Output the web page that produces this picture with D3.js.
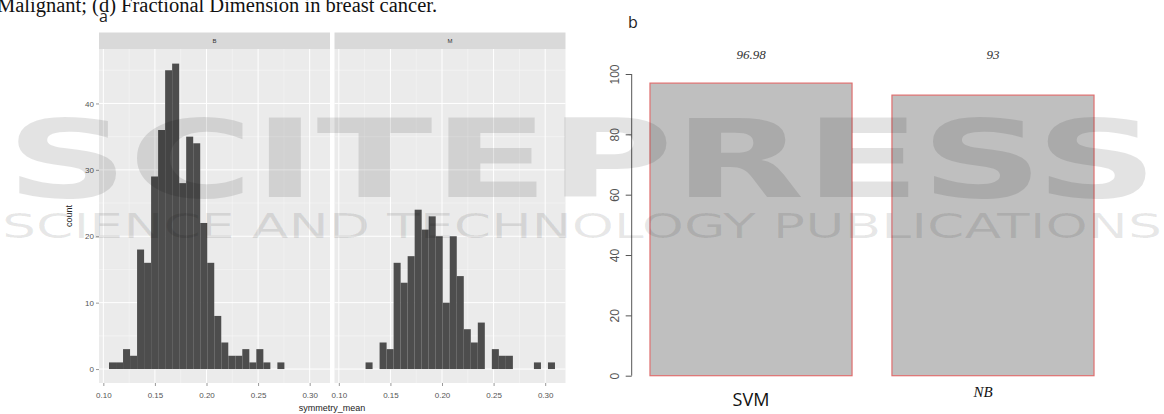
<!DOCTYPE html>
<meta charset="utf-8">
<script src="https://d3js.org/d3.v7.min.js"></script>
<style>
  body { margin: 0; background: #fff; }
  svg { display: block; }
</style>
<div id="my_dataviz"></div>
<script>

// ---- data ----
// histogram of symmetry_mean, 30 bins, faceted by diagnosis
var binStart = 0.1055, binWidth = 0.0068;
var countsB = [1, 1, 3, 2, 18, 16, 29, 36, 45, 46, 28, 35, 34, 22, 16, 8, 4, 2, 2, 3, 1, 3, 1, 0, 1, 0, 0, 0, 0, 0];
var countsM = [0, 0, 0, 1, 0, 4, 3, 16, 13, 17, 24, 21, 23, 20, 10, 20, 14, 6, 4, 7, 0, 3, 2, 2, 0, 0, 0, 1, 0, 1];
var facets = ["B", "M"];
var xTicks = [0.10, 0.15, 0.20, 0.25, 0.30];
var yTicks = [0, 10, 20, 30, 40];

// accuracy bar chart
var models = ["SVM", "NB"];
var accuracy = [96.98, 93];
var accLabels = ["96.98", "93"];
var accTicks = [0, 20, 40, 60, 80, 100];

var W = 1164, H = 414;
var svg = d3.select("#my_dataviz").append("svg")
  .attr("width", W).attr("height", H);

// caption fragment from the page (cut at the top)
svg.append("text")
  .attr("x", -3).attr("y", 12)
  .style("font-family", "Liberation Serif, Times New Roman, serif")
  .style("font-size", "20.5px")
  .style("fill", "#111")
  .text("Malignant; (d) Fractional Dimension in breast cancer.");

// ---------- panel a : ggplot histogram ----------
svg.append("text").attr("x", 99).attr("y", 22)
  .style("font-family", "Open Sans, sans-serif").style("font-size", "16px").style("fill", "#222")
  .text("a");

var panelTop = 49, panelBottom = 383, stripTop = 32.5;
var panels = [{ name: facets[0], x0: 99, x1: 330, counts: countsB },
              { name: facets[1], x0: 334.5, x1: 565.5, counts: countsM }];

var y = d3.scaleLinear().domain([-2.1, 48.2]).range([panelBottom, panelTop]);

panels.forEach(function(p) {
  var x = d3.scaleLinear().domain([0.0958, 0.3197]).range([p.x0, p.x1]);
  var g = svg.append("g");

  // strip
  g.append("rect").attr("x", p.x0).attr("y", stripTop)
    .attr("width", p.x1 - p.x0).attr("height", panelTop - stripTop)
    .style("fill", "#d9d9d9");
  g.append("text").attr("x", (p.x0 + p.x1) / 2).attr("y", (stripTop + panelTop) / 2 + 2)
    .attr("text-anchor", "middle")
    .style("font-family", "Liberation Sans, Arial, sans-serif").style("font-size", "6px").style("fill", "#333")
    .text(p.name);

  // panel background
  g.append("rect").attr("x", p.x0).attr("y", panelTop)
    .attr("width", p.x1 - p.x0).attr("height", panelBottom - panelTop)
    .style("fill", "#ebebeb");

  // grid lines
  var minorX = [0.125, 0.175, 0.225, 0.275];
  var minorY = [5, 15, 25, 35, 45];
  g.selectAll(".mx").data(minorX).enter().append("line")
    .attr("x1", d => x(d)).attr("x2", d => x(d)).attr("y1", panelTop).attr("y2", panelBottom)
    .style("stroke", "#f7f7f7").style("stroke-width", 0.6);
  g.selectAll(".my").data(minorY).enter().append("line")
    .attr("x1", p.x0).attr("x2", p.x1).attr("y1", d => y(d)).attr("y2", d => y(d))
    .style("stroke", "#f7f7f7").style("stroke-width", 0.6);
  g.selectAll(".gx").data(xTicks).enter().append("line")
    .attr("x1", d => x(d)).attr("x2", d => x(d)).attr("y1", panelTop).attr("y2", panelBottom)
    .style("stroke", "#fff").style("stroke-width", 1);
  g.selectAll(".gy").data(yTicks).enter().append("line")
    .attr("x1", p.x0).attr("x2", p.x1).attr("y1", d => y(d)).attr("y2", d => y(d))
    .style("stroke", "#fff").style("stroke-width", 1);

  // bars
  g.selectAll(".bar").data(p.counts.map((c, i) => ({ i: i, c: c })).filter(d => d.c > 0))
    .enter().append("rect")
      .attr("x", d => x(binStart + d.i * binWidth))
      .attr("width", d => x(binStart + (d.i + 1) * binWidth) - x(binStart + d.i * binWidth))
      .attr("y", d => y(d.c))
      .attr("height", d => y(0) - y(d.c))
      .style("fill", "#4d4d4d");

  // x axis
  var ax = g.append("g").attr("transform", "translate(0," + panelBottom + ")")
    .call(d3.axisBottom(x).tickValues(xTicks).tickFormat(d3.format(".2f")).tickSize(3).tickPadding(6));
  ax.select(".domain").remove();
  ax.selectAll("line").style("stroke", "#555").style("stroke-width", 0.6);
  ax.selectAll("text").style("font-family", "Liberation Sans, Arial, sans-serif")
    .style("font-size", "8px").style("fill", "#555");
});

// y axis (left panel only)
var ay = svg.append("g").attr("transform", "translate(99,0)")
  .call(d3.axisLeft(y).tickValues(yTicks).tickSize(3).tickPadding(2));
ay.select(".domain").remove();
ay.selectAll("line").style("stroke", "#555").style("stroke-width", 0.6);
ay.selectAll("text").style("font-family", "Liberation Sans, Arial, sans-serif")
  .style("font-size", "8px").style("fill", "#555");

svg.append("text")
  .attr("transform", "translate(72," + (panelTop + panelBottom) / 2 + ") rotate(-90)")
  .attr("text-anchor", "middle")
  .style("font-family", "Liberation Sans, Arial, sans-serif").style("font-size", "9px").style("fill", "#222")
  .text("count");

svg.append("text").attr("x", 332).attr("y", 411).attr("text-anchor", "middle")
  .style("font-family", "Liberation Sans, Arial, sans-serif").style("font-size", "9px").style("fill", "#222")
  .text("symmetry_mean");

// ---------- panel b : accuracy bars ----------
svg.append("text").attr("x", 628).attr("y", 28)
  .style("font-family", "Open Sans, sans-serif").style("font-size", "16px").style("fill", "#222")
  .text("b");

var xb = d3.scaleBand().domain(models).range([630, 1114]).paddingInner(0.165).paddingOuter(0.0826);
var yb = d3.scaleLinear().domain([0, 100]).range([375.7, 74]);

svg.selectAll(".acc").data(models).enter().append("rect")
  .attr("x", d => xb(d)).attr("width", xb.bandwidth())
  .attr("y", (d, i) => yb(accuracy[i]))
  .attr("height", (d, i) => yb(0) - yb(accuracy[i]))
  .style("fill", "#bfbfbf").style("stroke", "#df6f6f").style("stroke-width", 1.2);

var byAxis = svg.append("g").attr("transform", "translate(631.7,0)")
  .call(d3.axisLeft(yb).tickValues(accTicks).tickSize(6).tickPadding(4));
byAxis.select(".domain").attr("d", "M0," + yb(0) + "V" + yb(100)).style("stroke", "#555");
byAxis.selectAll("line").style("stroke", "#555");
byAxis.selectAll(".tick text")
  .attr("transform", "rotate(-90)")
  .attr("x", 0).attr("y", -17).attr("dy", "0.35em")
  .style("text-anchor", "middle")
  .style("font-family", "Liberation Sans, Arial, sans-serif").style("font-size", "12px").style("fill", "#555");

svg.selectAll(".accLab").data(models).enter().append("text")
  .attr("x", d => xb(d) + xb.bandwidth() / 2).attr("y", 59)
  .attr("text-anchor", "middle")
  .style("font-family", "Liberation Serif, Times New Roman, serif").style("font-style", "italic")
  .style("font-size", "13px").style("fill", "#333")
  .text((d, i) => accLabels[i]);

svg.append("text").attr("x", xb("SVM") + xb.bandwidth() / 2).attr("y", 406).attr("text-anchor", "middle")
  .style("font-family", "Open Sans, sans-serif").style("font-size", "18px").style("fill", "#111")
  .text("SVM");
svg.append("text").attr("x", xb("NB") + xb.bandwidth() / 2 - 10).attr("y", 397).attr("text-anchor", "middle")
  .style("font-family", "Liberation Serif, Times New Roman, serif").style("font-style", "italic")
  .style("font-size", "15px").style("fill", "#111")
  .text("NB");

// ---------- publisher watermark over everything ----------
var wm = svg.append("g").style("fill", "#000").style("pointer-events", "none");
wm.append("text").attr("x", 6).attr("y", 197)
  .attr("textLength", 1152).attr("lengthAdjust", "spacingAndGlyphs")
  .style("fill-opacity", 0.11)
  .style("font-family", "DejaVu Sans, sans-serif").style("font-weight", "bold").style("font-size", "108px")
  .text("SCITEPRESS");
wm.append("text").attr("x", 2).attr("y", 238)
  .attr("textLength", 1160).attr("lengthAdjust", "spacingAndGlyphs")
  .style("fill-opacity", 0.09)
  .style("font-family", "DejaVu Sans, sans-serif").style("font-size", "34px")
  .text("SCIENCE AND TECHNOLOGY PUBLICATIONS");

</script>
